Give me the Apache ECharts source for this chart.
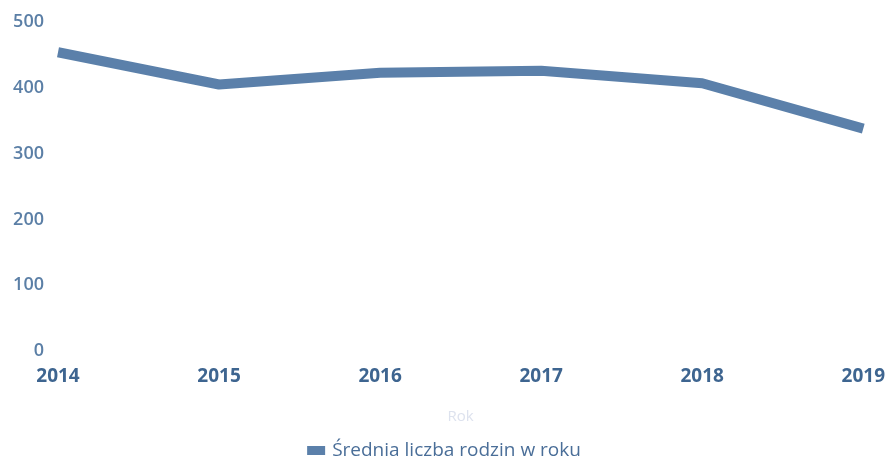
<!DOCTYPE html>
<html><head><meta charset="utf-8">
<script src="https://cdn.jsdelivr.net/npm/echarts@6/dist/echarts.min.js"></script>
<style>html,body{margin:0;padding:0;background:#fff}#c{width:888px;height:466px}</style>
</head><body><div id="c"></div>
<script>
const categories = ['2014','2015','2016','2017','2018','2019'];
const values = [454, 405, 423, 426, 407, 338];
const seriesName = 'Średnia liczba rodzin w roku';
const xAxisName = 'Rok';

const chart = echarts.init(document.getElementById('c'));
chart.setOption({
  animation: false,
  textStyle: { fontFamily: 'Open Sans' },
  grid: { left: 58, right: 22, top: 22, bottom: 115 },
  legend: {
    bottom: 1, left: 'center', icon: 'rect', itemWidth: 18, itemHeight: 9, itemGap: 8,
    textStyle: { color: '#4a6e98', fontSize: 19, fontFamily: 'Open Sans', padding: [0, 0, 0, 2] }
  },
  xAxis: {
    type: 'category', data: categories, boundaryGap: false,
    name: xAxisName, nameLocation: 'middle', nameGap: 58,
    nameTextStyle: { color: '#dde2ee', fontSize: 15 },
    axisLine: { show: false }, axisTick: { show: false },
    axisLabel: { color: '#3e6590', fontSize: 19, fontWeight: 'bold', margin: 16 }
  },
  yAxis: {
    type: 'value', min: 0, max: 500, interval: 100,
    axisLine: { show: false }, axisTick: { show: false },
    splitLine: { show: false },
    axisLabel: { color: '#5b7fa6', fontSize: 18, fontWeight: 600, margin: 14 }
  },
  series: [{
    name: seriesName, type: 'line', data: values,
    showSymbol: false, symbol: 'none',
    lineStyle: { width: 10, color: '#5b80aa' },
    itemStyle: { color: '#5b80aa' }
  }]
});
</script></body></html>
